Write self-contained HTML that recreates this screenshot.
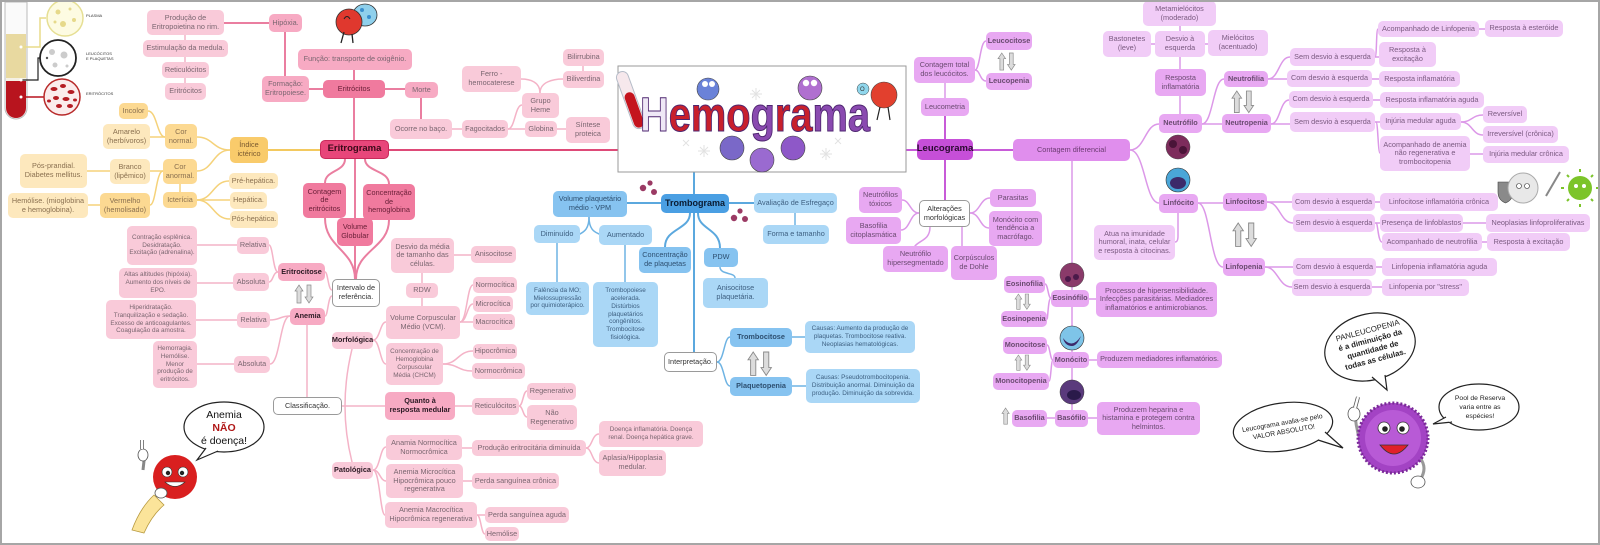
<!DOCTYPE html>
<html><head><meta charset="utf-8">
<style>
html,body{margin:0;padding:0;background:#fff}
#c{position:relative;width:1600px;height:545px;overflow:hidden;background:#fff;font-family:"Liberation Sans",sans-serif}
#frame{position:absolute;left:0;top:0;width:1600px;height:545px;box-sizing:border-box;border:2px solid #a6a6a6;pointer-events:none}
svg{position:absolute;left:0;top:0}
.n{position:absolute;display:flex;align-items:center;justify-content:center;text-align:center;border-radius:5px;font-size:7.3px;line-height:8.6px;color:#7a6670;white-space:nowrap;box-sizing:border-box}
.s{font-size:6.4px;line-height:7.8px}
.b{font-weight:bold;color:#2c1a24}
.pl{background:#f9cad9}
.pm{background:#f7aac3}
.pd{background:#f07a9e;color:#6a2038}
.pr{background:#e8467a;color:#3a0818;font-weight:bold;font-size:9.5px;border:1px solid #c82a5a}
.w{background:#fff;border:1px solid #9a9a9a;color:#333}
.yl{background:#fde8bd;color:#8a7050}
.ym{background:#fcd992;color:#8a7050}
.yd{background:#f9cb6b;color:#7a5a30}
.bl{background:#aad7f6;color:#3d5f80}
.bm{background:#86c3f0;color:#2d4f70}
.bd{background:#4a9fe3;color:#0a1a30;font-weight:bold;font-size:9px}
.ul{background:#f1ccf7;color:#7a5a80}
.um{background:#e8a8f2;color:#6a4a70}
.ud{background:#c64fd8;color:#2a0a30;font-weight:bold;font-size:9.5px}
.uc{background:#e08eed;color:#6a3a70}
.lbl{position:absolute;font-size:4px;color:#333;line-height:5px}
</style></head><body>
<div id="c">
<svg width="1600" height="545" viewBox="0 0 1600 545">
<defs>
<g id="ud">
<polygon points="4,0 8,6 6,6 6,18 2,18 2,6 0,6" fill="#dcdcdc" stroke="#8a8a8a" stroke-width="0.7"/>
<polygon points="12,0 16,0 16,12 18,12 14,18 10,12 12,12" fill="#dcdcdc" stroke="#8a8a8a" stroke-width="0.7"/>
</g>
</defs>
<g fill="none" stroke-linecap="round">
<!-- PINK main -->
<g stroke="#ea7ea0" stroke-width="2">
<path d="M354,98 V140"/><path d="M354,70 V80"/><path d="M309,89 H323"/><path d="M285,32 V76"/>
<path d="M224,23 H269"/><path d="M385,89 H405"/><path d="M421,98 V119"/>
<path d="M345,159 C345,172 325,170 325,183"/><path d="M365,159 C365,172 389,170 389,184"/><path d="M355,159 V218"/>
<path d="M325,218 C325,248 355,250 355,279"/><path d="M389,220 C389,248 356,250 356,279"/><path d="M355,246 V279"/>
</g>
<path d="M389,150 H618" stroke="#de4a78" stroke-width="2"/>
<path d="M268,150 H320" stroke="#f3c95f" stroke-width="2"/>
<g stroke="#f4b3c7" stroke-width="1.5">
<path d="M185,35 V83"/><path d="M452,129 H462"/>
<path d="M508,129 C515,129 515,105 522,105"/><path d="M508,129 H525"/>
<path d="M540,93 C540,82 530,79 521,79"/><path d="M540,93 C540,82 553,79 563,79"/>
<path d="M583,66 V71"/><path d="M557,129 H566"/>
<path d="M332,290 C328,290 328,272 325,272"/><path d="M332,296 C328,296 328,316 325,316"/>
<path d="M278,272 C273,272 273,245 269,245"/><path d="M278,272 C273,272 273,282 269,282"/>
<path d="M197,245 H237"/><path d="M197,283 H233"/>
<path d="M290,316 C280,316 280,320 270,320"/><path d="M290,316 C280,316 280,364 270,364"/>
<path d="M196,320 H237"/><path d="M197,364 H234"/>
<path d="M307,325 V397"/><path d="M342,406 H385"/>
<path d="M352,349 Q345,378 345,406 Q345,434 352,462"/>
<path d="M373,340 C380,340 380,322 386,322"/><path d="M373,340 C380,340 380,364 386,364"/>
<path d="M422,273 V306"/><path d="M454,255 H471"/>
<path d="M460,322 C467,322 467,285 473,285"/><path d="M460,322 C467,322 467,304 473,304"/><path d="M460,322 H473"/>
<path d="M443,364 C458,364 458,351 473,351"/><path d="M443,364 C458,364 458,371 472,371"/>
<path d="M455,406 H472"/>
<path d="M519,406 C523,406 523,391 527,391"/><path d="M519,406 C523,406 523,417 527,417"/>
<path d="M373,470 C380,470 380,447 386,447"/><path d="M373,470 C380,470 380,481 386,481"/><path d="M373,470 C380,470 380,515 385,515"/>
<path d="M462,448 H472"/>
<path d="M586,448 C592,448 592,434 599,434"/><path d="M586,448 C592,448 592,463 599,463"/>
<path d="M463,481 H472"/>
<path d="M477,515 H485"/><path d="M477,515 C481,515 481,534 485,534"/>
</g>
<!-- YELLOW -->
<g stroke="#f5d27a" stroke-width="1.5">
<path d="M230,150 C213,150 213,137 197,137"/><path d="M230,150 C213,150 213,171 197,171"/>
<path d="M165,137 C157,137 157,111 148,111"/><path d="M165,137 H150"/>
<path d="M163,171 H150"/><path d="M163,171 C156,171 156,205 150,205"/>
<path d="M87,171 H110"/><path d="M88,205 H100"/><path d="M180,184 V192"/>
<path d="M197,200 C213,200 213,181 229,181"/><path d="M197,200 H230"/><path d="M197,200 C213,200 213,219 230,219"/>
</g>
<!-- BLUE -->
<g stroke="#5ba8de" stroke-width="2">
<path d="M694,172 V194"/><path d="M627,203 H661"/><path d="M729,203 H754"/><path d="M694,213 V352"/>
<path d="M690,213 C690,230 665,228 665,247"/><path d="M698,213 C698,230 720,228 720,248"/>
</g>
<g stroke="#6eb3e3" stroke-width="1.5">
<path d="M795,213 V225"/>
<path d="M589,217 C589,230 583,232 580,234"/><path d="M589,217 C589,230 595,232 599,234"/>
<path d="M557,243 V282"/><path d="M625,245 V282"/>
<path d="M720,267 C720,275 735,272 735,278"/>
<path d="M717,362 C724,362 724,337 730,337"/><path d="M717,362 C724,362 724,386 730,386"/>
<path d="M792,337 H805"/><path d="M792,386 H806"/>
</g>
<!-- PURPLE -->
<g stroke="#c85bd8" stroke-width="2">
<path d="M906,150 H917"/><path d="M945,116 V139"/><path d="M945,160 V200"/><path d="M973,150 H1013"/>
</g>
<g stroke="#dc98e8" stroke-width="1.5">
<path d="M945,83 V98"/>
<path d="M975,70 C980,70 980,41 986,41"/><path d="M975,70 C980,70 980,81 986,81"/>
<path d="M919,213 C910,213 910,200 902,200"/><path d="M919,213 C910,213 910,230 901,230"/>
<path d="M930,227 C930,240 920,240 915,246"/><path d="M962,227 V246"/>
<path d="M970,213 C980,213 980,198 990,198"/><path d="M970,213 C980,213 980,228 989,228"/>
<path d="M1130,150 C1145,150 1145,124 1159,124"/><path d="M1130,150 C1145,150 1145,203 1159,203"/>
<path d="M1072,161 V410"/>
<path d="M1180,26 V114"/><path d="M1151,44 H1155"/><path d="M1205,44 H1208"/>
<path d="M1202,124 C1213,124 1213,79 1224,79"/><path d="M1202,124 H1222"/>
<path d="M1268,79 C1279,79 1279,57 1290,57"/><path d="M1268,79 H1287"/>
<path d="M1375,57 C1377,57 1376,29 1378,29"/><path d="M1375,57 H1379"/>
<path d="M1479,29 H1485"/><path d="M1372,79 H1379"/>
<path d="M1271,124 C1280,124 1280,100 1289,100"/><path d="M1271,124 H1290"/>
<path d="M1373,100 H1380"/>
<path d="M1375,122 H1380"/><path d="M1376,122 C1378,122 1378,153 1380,153"/>
<path d="M1461,122 C1472,122 1472,115 1483,115"/><path d="M1461,122 C1472,122 1472,135 1483,135"/>
<path d="M1470,154 H1483"/>
<path d="M1198,203 H1223"/><path d="M1198,203 C1210,203 1210,267 1223,267"/>
<path d="M1178,213 V236 C1178,242 1176,242 1175,242"/>
<path d="M1267,202 H1292"/><path d="M1267,202 C1280,202 1280,223 1293,223"/>
<path d="M1375,202 H1380"/>
<path d="M1375,223 H1380"/><path d="M1376,223 C1378,223 1378,242 1382,242"/>
<path d="M1463,223 H1486"/><path d="M1482,242 H1487"/>
<path d="M1265,267 H1293"/><path d="M1265,267 C1278,267 1278,287 1292,287"/>
<path d="M1376,267 H1382"/><path d="M1372,287 H1382"/>
<path d="M1051,298 C1048,298 1048,284 1045,284"/><path d="M1051,298 C1048,298 1048,319 1047,319"/>
<path d="M1089,299 H1096"/>
<path d="M1053,360 C1050,360 1050,345 1047,345"/><path d="M1053,360 C1051,360 1051,381 1049,381"/>
<path d="M1089,360 H1097"/><path d="M1047,418 H1055"/><path d="M1088,418 H1097"/>
</g>
</g>

<!-- arrows -->
<use href="#ud" transform="translate(295,285)"/>
<use href="#ud" transform="translate(748,352) scale(1.3)"/>
<use href="#ud" transform="translate(998,53) scale(0.95)"/>
<use href="#ud" transform="translate(1232,91) scale(1.2)"/>
<use href="#ud" transform="translate(1233,223) scale(1.3)"/>
<use href="#ud" transform="translate(1015,294) scale(0.85)"/>
<use href="#ud" transform="translate(1015,355) scale(0.85)"/>
<polygon transform="translate(1002,408) scale(0.9)" points="4,0 8,6 6,6 6,18 2,18 2,6 0,6" fill="#dcdcdc" stroke="#8a8a8a" stroke-width="0.7"/>

<!-- test tube -->
<path d="M5,2 H27 V108 A11,11 0 0 1 5,108 Z" fill="#fafafa" stroke="#bbb" stroke-width="1"/>
<rect x="6" y="34" width="20" height="46" fill="#e8d9a0"/>
<rect x="6" y="78" width="20" height="3" fill="#f4f0e4"/>
<path d="M6,81 H26 V108 A10,10 0 0 1 6,108 Z" fill="#b8141e"/>
<path d="M21,47 H40 V18 H46" stroke="#e8dc8a" stroke-width="1.5" fill="none"/>
<path d="M21,80 H38 V58 H40" stroke="#222" stroke-width="1.2" fill="none"/>
<path d="M21,97 H44" stroke="#b8141e" stroke-width="1.5" fill="none"/>
<circle cx="21" cy="47" r="1.5" fill="#fff"/><circle cx="21" cy="80" r="1.5" fill="#fff"/><circle cx="21" cy="97" r="1.5" fill="#fff"/>
<circle cx="65" cy="18" r="18" fill="#fdfbe2" stroke="#e6df94" stroke-width="1.5"/>
<g fill="#e6d98a"><circle cx="58" cy="12" r="2.5"/><circle cx="70" cy="9" r="1.5"/><circle cx="63" cy="24" r="3"/><circle cx="74" cy="20" r="2"/><circle cx="55" cy="22" r="1.5"/></g>
<circle cx="58" cy="58" r="18" fill="#fff" stroke="#222" stroke-width="1.8"/>
<g fill="#ccc"><circle cx="52" cy="52" r="3"/><circle cx="64" cy="55" r="3.5"/><circle cx="55" cy="65" r="2.5"/><circle cx="67" cy="66" r="1.5"/><circle cx="47" cy="58" r="1.2" fill="#555"/></g>
<circle cx="62" cy="97" r="18" fill="#fbecec" stroke="#b82a2a" stroke-width="1.5"/>
<g fill="#b51d24"><ellipse cx="54" cy="89" rx="3.5" ry="2"/><ellipse cx="63" cy="86" rx="3" ry="2"/><ellipse cx="71" cy="92" rx="3.5" ry="2"/><ellipse cx="56" cy="98" rx="3" ry="2"/><ellipse cx="66" cy="99" rx="3.5" ry="2"/><ellipse cx="59" cy="106" rx="3" ry="2"/><ellipse cx="70" cy="106" rx="3" ry="2"/><ellipse cx="49" cy="101" rx="2" ry="1.5"/><ellipse cx="75" cy="100" rx="2" ry="1.5"/></g>

<!-- top erythrocyte character -->
<ellipse cx="365" cy="15" rx="12" ry="11" fill="#8fd0ec" stroke="#333" stroke-width="0.8"/>
<g fill="#3a8fcf"><circle cx="362" cy="10" r="2"/><circle cx="369" cy="17" r="2"/><circle cx="360" cy="20" r="1.5"/></g>
<circle cx="349" cy="22" r="13" fill="#e0382e" stroke="#333" stroke-width="0.8"/>
<path d="M344,32 L341,43 M352,34 L353,43" stroke="#222" stroke-width="1.3"/>
<path d="M344,19 q3,-5 6,0" stroke="#222" stroke-width="1" fill="none"/>

<!-- Hemograma box -->
<rect x="618" y="66" width="288" height="106" fill="#fff" stroke="#9a9a9a" stroke-width="1"/>
<g transform="rotate(-20 631 101)">
<rect x="625" y="70" width="12" height="60" rx="6" fill="#f6e8ec" stroke="#b5bcc8" stroke-width="1"/>
<rect x="626" y="92" width="10" height="37" rx="5" fill="#c4141e"/>
</g>
<g opacity="0.55" stroke="#ccc" stroke-width="1">
<path d="M752,90 l8,8 m-8,0 l8,-8 m-4,-2 v12 m-6,-6 h12"/>
<path d="M700,147 l8,8 m-8,0 l8,-8 m-4,-2 v12 m-6,-6 h12"/>
<path d="M822,150 l8,8 m-8,0 l8,-8 m-4,-2 v12 m-6,-6 h12"/>
<path d="M683,140 l6,6 m-6,0 l6,-6"/><path d="M835,138 l6,6 m-6,0 l6,-6"/>
</g>
<circle cx="708" cy="89" r="11" fill="#6a82d8" stroke="#444" stroke-width="0.6"/>
<circle cx="705" cy="84" r="3" fill="#fff"/><circle cx="712" cy="84" r="3" fill="#fff"/>
<circle cx="810" cy="88" r="12" fill="#b070d0" stroke="#444" stroke-width="0.6"/>
<circle cx="806" cy="83" r="3.2" fill="#fff"/><circle cx="814" cy="83" r="3.2" fill="#fff"/>
<circle cx="732" cy="148" r="12" fill="#7a68c8" stroke="#444" stroke-width="0.6"/>
<circle cx="762" cy="160" r="12" fill="#9a6ad0" stroke="#444" stroke-width="0.6"/>
<circle cx="793" cy="148" r="12" fill="#8e58c8" stroke="#444" stroke-width="0.6"/>
<circle cx="863" cy="89" r="6" fill="#8fd6ec" stroke="#444" stroke-width="0.5"/>
<text x="860" y="91" font-size="6" fill="#333" font-family="Liberation Sans">O</text>
<circle cx="884" cy="95" r="13" fill="#e2402e" stroke="#444" stroke-width="0.6"/>
<path d="M880,107 l-3,13 M888,107 l2,13" stroke="#222" stroke-width="1.2"/>
<text x="640" y="131" font-size="48" font-weight="bold" font-family="Liberation Sans" textLength="230" lengthAdjust="spacingAndGlyphs" stroke="#4e2670" stroke-width="1"><tspan fill="#efe8f6">H</tspan><tspan fill="#c8202c">em</tspan><tspan fill="#c81e2e">o</tspan><tspan fill="#8a4ab0">g</tspan><tspan fill="#c8202c">ra</tspan><tspan fill="#8a4ab0">ma</tspan></text>

<!-- platelets -->
<g fill="#9b3a64">
<circle cx="643" cy="188" r="3.2"/><circle cx="650" cy="183" r="2.6"/><circle cx="654" cy="192" r="3"/>
<circle cx="734" cy="218" r="3.2"/><circle cx="740" cy="211" r="2.6"/><circle cx="745" cy="219" r="3"/>
</g>

<!-- leukocyte cell images -->
<circle cx="1178" cy="147" r="12" fill="#7d2c5c" stroke="#444" stroke-width="0.5"/>
<g fill="#4a1438"><circle cx="1173" cy="144" r="4"/><circle cx="1183" cy="150" r="4"/></g>
<circle cx="1178" cy="180" r="12" fill="#4aa6d8" stroke="#333" stroke-width="0.6"/>
<ellipse cx="1178" cy="183" rx="8" ry="6" fill="#3c2a6a"/>
<circle cx="1072" cy="275" r="12" fill="#8a3a6a" stroke="#444" stroke-width="0.5"/>
<g fill="#4a1a4a"><circle cx="1068" cy="279" r="3"/><circle cx="1076" cy="277" r="3"/></g>
<circle cx="1072" cy="338" r="12" fill="#7ec4e8" stroke="#333" stroke-width="0.6"/>
<path d="M1063,338 q9,12 18,-2 q-4,10 -9,10 q-7,0 -9,-8z" fill="#3c2a6a"/>
<circle cx="1072" cy="392" r="12" fill="#5a3a7c" stroke="#333" stroke-width="0.5"/>
<ellipse cx="1074" cy="395" rx="7" ry="5" fill="#2a1a4a"/>

<!-- top right shield/cell/virus -->
<path d="M1498,182 h15 v10 q0,8 -7.5,11 q-7.5,-3 -7.5,-11z" fill="#8a8a8a" stroke="#444" stroke-width="0.6"/>
<circle cx="1523" cy="188" r="15" fill="#e8e8e8" stroke="#aaa" stroke-width="1"/>
<circle cx="1519" cy="186" r="2.5" fill="#fff" stroke="#333" stroke-width="0.6"/><circle cx="1527" cy="186" r="2.5" fill="#fff" stroke="#333" stroke-width="0.6"/>
<path d="M1546,196 L1560,172" stroke="#888" stroke-width="2"/>
<circle cx="1580" cy="188" r="12" fill="#7cc42a"/>
<g stroke="#7cc42a" stroke-width="2"><path d="M1580,172 v-3 M1580,204 v3 M1564,188 h-3 M1596,188 h2 M1569,177 l-2,-2 M1591,177 l2,-2 M1569,199 l-2,2 M1591,199 l2,2"/></g>
<circle cx="1576" cy="186" r="2" fill="#fff"/><circle cx="1584" cy="186" r="2" fill="#fff"/>

<!-- anemia bubble and character -->
<ellipse cx="224" cy="427" rx="40" ry="25" fill="#fff" stroke="#222" stroke-width="1.2"/>
<path d="M206,448 L197,460 L218,451" fill="#fff" stroke="#222" stroke-width="1.2"/>
<path d="M207,446 L217,450" stroke="#fff" stroke-width="2"/>
<text x="224" y="418" font-size="10.5" text-anchor="middle" fill="#111" font-family="Liberation Sans">Anemia</text>
<text x="224" y="431" font-size="10.5" font-weight="bold" text-anchor="middle" fill="#b01818" font-family="Liberation Sans">NÃO</text>
<text x="224" y="444" font-size="10.5" text-anchor="middle" fill="#111" font-family="Liberation Sans">é doença!</text>
<path d="M132,530 q8,-22 22,-35 l10,10 q-12,10 -20,28 z" fill="#fbe49a" stroke="#b89a40" stroke-width="0.8"/>
<path d="M143,470 L145,452" stroke="#888" stroke-width="3"/>
<ellipse cx="143" cy="455" rx="5" ry="6" fill="#fff" stroke="#555" stroke-width="0.8"/>
<path d="M142,449 v-9" stroke="#555" stroke-width="3.5"/><path d="M142,449 v-9" stroke="#fff" stroke-width="2"/>
<circle cx="175" cy="477" r="22" fill="#d91f1f"/>
<circle cx="167" cy="472" r="5" fill="#fff" stroke="#333" stroke-width="0.6"/><circle cx="183" cy="472" r="5" fill="#fff" stroke="#333" stroke-width="0.6"/>
<circle cx="168" cy="473" r="2.2" fill="#222"/><circle cx="182" cy="473" r="2.2" fill="#222"/>
<path d="M165,482 q10,9 20,0 z" fill="#fff" stroke="#333" stroke-width="0.6"/>
<ellipse cx="161" cy="493" rx="6" ry="5" fill="#fff" stroke="#555" stroke-width="0.8"/>

<!-- leukocyte character -->
<ellipse cx="1370" cy="347" rx="46" ry="33" transform="rotate(-15 1370 347)" fill="#fff" stroke="#222" stroke-width="1.2"/>
<path d="M1372,377 L1387,390 L1385,375" fill="#fff" stroke="#222" stroke-width="1.2"/>
<path d="M1373,376 L1384,375" stroke="#fff" stroke-width="2.5"/>
<g font-family="Liberation Sans" font-size="7.8" fill="#222" text-anchor="middle" transform="rotate(-15 1370 347)">
<text x="1372" y="333">PANLEUCOPENIA</text>
<text x="1372" y="343" font-weight="bold">é a diminuição da</text>
<text x="1372" y="353" font-weight="bold">quantidade de</text>
<text x="1372" y="363" font-weight="bold">todas as células.</text>
</g>
<ellipse cx="1283" cy="427" rx="50" ry="24" transform="rotate(-8 1283 427)" fill="#fff" stroke="#222" stroke-width="1.2"/>
<path d="M1318,440 L1343,448 L1325,432" fill="#fff" stroke="#222" stroke-width="1.2"/>
<path d="M1320,438 L1325,434" stroke="#fff" stroke-width="3"/>
<g font-family="Liberation Sans" font-size="6.8" fill="#222" text-anchor="middle" transform="rotate(-10 1283 427)">
<text x="1283" y="425">Leucograma avalia-se pelo</text>
<text x="1283" y="434">VALOR ABSOLUTO!</text>
</g>
<ellipse cx="1479" cy="407" rx="40" ry="23" fill="#fff" stroke="#222" stroke-width="1.2"/>
<path d="M1446,417 L1433,424 L1452,422" fill="#fff" stroke="#222" stroke-width="1.2"/>
<path d="M1447,418 L1451,421" stroke="#fff" stroke-width="3"/>
<g font-family="Liberation Sans" font-size="6.8" fill="#222" text-anchor="middle">
<text x="1480" y="400">Pool de Reserva</text>
<text x="1480" y="409">varia entre as</text>
<text x="1480" y="418">espécies!</text>
</g>
<path d="M1360,440 q-5,-15 -5,-30" stroke="#999" stroke-width="3" fill="none"/>
<ellipse cx="1354" cy="414" rx="6" ry="7" fill="#fff" stroke="#555" stroke-width="0.8"/>
<path d="M1355,408 l3,-11" stroke="#555" stroke-width="4"/><path d="M1355,408 l3,-11" stroke="#fff" stroke-width="2.4"/>
<path d="M1420,458 q8,10 0,22" stroke="#999" stroke-width="3" fill="none"/>
<circle cx="1393" cy="438" r="35" fill="#a343c4" stroke="#7a2a98" stroke-width="3" stroke-dasharray="2 2"/>
<circle cx="1393" cy="438" r="28" fill="#b85ad6"/>
<circle cx="1384" cy="428" r="6" fill="#fff" stroke="#333" stroke-width="0.8"/><circle cx="1403" cy="428" r="6" fill="#fff" stroke="#333" stroke-width="0.8"/>
<circle cx="1385" cy="429" r="2.8" fill="#222"/><circle cx="1402" cy="429" r="2.8" fill="#222"/>
<path d="M1380,445 q14,18 28,0 z" fill="#e0202a" stroke="#333" stroke-width="0.8"/>
<ellipse cx="1418" cy="482" rx="7" ry="6" fill="#fff" stroke="#555" stroke-width="0.8"/>
</svg>

<div class="lbl" style="left:86px;top:13px">PLASMA</div>
<div class="lbl" style="left:86px;top:51px">LEUCÓCITOS<br>E PLAQUETAS</div>
<div class="lbl" style="left:86px;top:91px">ERITRÓCITOS</div>

<!-- PINK -->
<div class="n pl" style="left:147px;top:10px;width:77px;height:25px">Produção de<br>Eritropoietina no rim.</div>
<div class="n pm" style="left:269px;top:14px;width:33px;height:18px">Hipóxia.</div>
<div class="n pl" style="left:143px;top:40px;width:85px;height:17px">Estimulação da medula.</div>
<div class="n pl" style="left:162px;top:62px;width:47px;height:16px">Reticulócitos</div>
<div class="n pl" style="left:165px;top:83px;width:41px;height:17px">Eritrócitos</div>
<div class="n pm" style="left:262px;top:76px;width:47px;height:26px">Formação:<br>Eritropoiese.</div>
<div class="n pm" style="left:298px;top:49px;width:114px;height:21px">Função: transporte de oxigênio.</div>
<div class="n pd" style="left:323px;top:80px;width:62px;height:18px">Eritrócitos</div>
<div class="n pm" style="left:405px;top:82px;width:33px;height:16px">Morte</div>
<div class="n pl" style="left:390px;top:119px;width:62px;height:20px">Ocorre no baço.</div>
<div class="n pl" style="left:462px;top:120px;width:46px;height:18px">Fagocitados</div>
<div class="n pl" style="left:462px;top:66px;width:59px;height:26px">Ferro -<br>hemocaterese</div>
<div class="n pl" style="left:522px;top:93px;width:37px;height:25px">Grupo<br>Heme</div>
<div class="n pl" style="left:525px;top:121px;width:32px;height:16px">Globina</div>
<div class="n pl" style="left:563px;top:49px;width:41px;height:17px">Bilirrubina</div>
<div class="n pl" style="left:563px;top:71px;width:41px;height:17px">Biliverdina</div>
<div class="n pl" style="left:566px;top:117px;width:44px;height:26px">Síntese<br>proteica</div>
<div class="n pr" style="left:320px;top:140px;width:69px;height:19px">Eritrograma</div>
<div class="n pd" style="left:303px;top:183px;width:43px;height:35px">Contagem<br>de<br>eritrócitos</div>
<div class="n pd" style="left:363px;top:184px;width:52px;height:36px">Concentração<br>de<br>hemoglobina</div>
<div class="n pd" style="left:337px;top:218px;width:36px;height:28px">Volume<br>Globular</div>
<div class="n w" style="left:332px;top:279px;width:48px;height:28px">Intervalo de<br>referência.</div>
<div class="n pl s" style="left:127px;top:226px;width:70px;height:39px">Contração esplênica.<br>Desidratação.<br>Excitação (adrenalina).</div>
<div class="n pl" style="left:237px;top:237px;width:32px;height:17px">Relativa</div>
<div class="n pl s" style="left:119px;top:268px;width:78px;height:30px">Altas altitudes (hipóxia).<br>Aumento dos níveis de<br>EPO.</div>
<div class="n pl" style="left:233px;top:273px;width:36px;height:18px">Absoluta</div>
<div class="n pm b" style="left:278px;top:263px;width:47px;height:18px">Eritrocitose</div>
<div class="n pm b" style="left:290px;top:308px;width:35px;height:17px">Anemia</div>
<div class="n pl s" style="left:106px;top:300px;width:90px;height:39px">Hiperidratação.<br>Tranquilização e sedação.<br>Excesso de anticoagulantes.<br>Coagulação da amostra.</div>
<div class="n pl" style="left:237px;top:312px;width:33px;height:16px">Relativa</div>
<div class="n pl s" style="left:153px;top:341px;width:44px;height:47px">Hemorragia.<br>Hemólise.<br>Menor<br>produção de<br>eritrócitos.</div>
<div class="n pl" style="left:234px;top:356px;width:36px;height:17px">Absoluta</div>
<div class="n w" style="left:273px;top:397px;width:69px;height:18px">Classificação.</div>
<div class="n pl b" style="left:332px;top:332px;width:41px;height:17px">Morfológica</div>
<div class="n pl b" style="left:332px;top:462px;width:41px;height:17px">Patológica</div>
<div class="n pl" style="left:391px;top:238px;width:63px;height:35px">Desvio da média<br>de tamanho das<br>células.</div>
<div class="n pl" style="left:471px;top:246px;width:45px;height:17px">Anisocitose</div>
<div class="n pl" style="left:406px;top:283px;width:32px;height:15px">RDW</div>
<div class="n pl" style="left:386px;top:306px;width:74px;height:33px">Volume Corpuscular<br>Médio (VCM).</div>
<div class="n pl" style="left:473px;top:277px;width:44px;height:16px">Normocítica</div>
<div class="n pl" style="left:473px;top:296px;width:40px;height:16px">Microcítica</div>
<div class="n pl" style="left:473px;top:314px;width:42px;height:16px">Macrocítica</div>
<div class="n pl s" style="left:386px;top:343px;width:57px;height:42px">Concentração de<br>Hemoglobina<br>Corpuscular<br>Média (CHCM)</div>
<div class="n pl" style="left:473px;top:344px;width:44px;height:15px">Hipocrômica</div>
<div class="n pl" style="left:472px;top:363px;width:53px;height:16px">Normocrômica</div>
<div class="n pm b" style="left:385px;top:392px;width:70px;height:28px">Quanto à<br>resposta medular</div>
<div class="n pl" style="left:472px;top:398px;width:47px;height:17px">Reticulócitos</div>
<div class="n pl" style="left:527px;top:383px;width:49px;height:17px">Regenerativo</div>
<div class="n pl" style="left:527px;top:405px;width:50px;height:25px">Não<br>Regenerativo</div>
<div class="n pl" style="left:386px;top:435px;width:76px;height:25px">Anamia Normocítica<br>Normocrômica</div>
<div class="n pl" style="left:472px;top:440px;width:114px;height:16px">Produção eritrocitária diminuída</div>
<div class="n pl s" style="left:599px;top:421px;width:104px;height:26px">Doença inflamatória. Doença<br>renal. Doença hepática grave.</div>
<div class="n pl" style="left:599px;top:450px;width:67px;height:26px">Aplasia/Hipoplasia<br>medular.</div>
<div class="n pl" style="left:386px;top:464px;width:77px;height:34px">Anemia Microcítica<br>Hipocrômica pouco<br>regenerativa</div>
<div class="n pl" style="left:472px;top:473px;width:87px;height:16px">Perda sanguínea crônica</div>
<div class="n pl" style="left:385px;top:502px;width:92px;height:26px">Anemia Macrocítica<br>Hipocrômica regenerativa</div>
<div class="n pl" style="left:485px;top:507px;width:84px;height:16px">Perda sanguínea aguda</div>
<div class="n pl" style="left:485px;top:527px;width:34px;height:14px">Hemólise</div>

<!-- YELLOW -->
<div class="n yd" style="left:230px;top:137px;width:38px;height:26px">Índice<br>ictérico</div>
<div class="n ym" style="left:165px;top:124px;width:32px;height:25px">Cor<br>normal.</div>
<div class="n ym" style="left:163px;top:159px;width:34px;height:25px">Cor<br>anormal.</div>
<div class="n ym" style="left:119px;top:103px;width:29px;height:16px">Incolor</div>
<div class="n yl" style="left:103px;top:124px;width:47px;height:25px">Amarelo<br>(herbívoros)</div>
<div class="n yl" style="left:110px;top:159px;width:40px;height:25px">Branco<br>(lipêmico)</div>
<div class="n yl" style="left:20px;top:154px;width:67px;height:34px">Pós-prandial.<br>Diabetes mellitus.</div>
<div class="n ym" style="left:100px;top:193px;width:50px;height:25px">Vermelho<br>(hemolisado)</div>
<div class="n yl" style="left:8px;top:193px;width:80px;height:25px">Hemólise. (mioglobina<br>e hemoglobina).</div>
<div class="n ym" style="left:163px;top:192px;width:34px;height:16px">Icterícia</div>
<div class="n yl" style="left:229px;top:173px;width:49px;height:16px">Pré-hepática.</div>
<div class="n yl" style="left:230px;top:192px;width:37px;height:17px">Hepática.</div>
<div class="n yl" style="left:230px;top:211px;width:48px;height:17px">Pós-hepática.</div>

<!-- BLUE -->
<div class="n bm" style="left:553px;top:191px;width:74px;height:26px">Volume plaquetário<br>médio - VPM</div>
<div class="n bd" style="left:661px;top:194px;width:68px;height:19px">Trombograma</div>
<div class="n bl" style="left:754px;top:193px;width:83px;height:20px">Avaliação de Esfregaço</div>
<div class="n bl" style="left:763px;top:225px;width:66px;height:19px">Forma e tamanho</div>
<div class="n bl" style="left:534px;top:225px;width:46px;height:18px">Diminuído</div>
<div class="n bl" style="left:599px;top:225px;width:53px;height:20px">Aumentado</div>
<div class="n bm" style="left:639px;top:247px;width:52px;height:26px">Concentração<br>de plaquetas</div>
<div class="n bm" style="left:704px;top:248px;width:34px;height:19px">PDW</div>
<div class="n bl" style="left:703px;top:278px;width:65px;height:30px">Anisocitose<br>plaquetária.</div>
<div class="n bl s" style="left:526px;top:282px;width:63px;height:33px">Falência da MO;<br>Mielossupressão<br>por quimioterápico.</div>
<div class="n bl s" style="left:593px;top:282px;width:65px;height:65px">Trombopoiese<br>acelerada.<br>Distúrbios<br>plaquetários<br>congênitos.<br>Trombocitose<br>fisiológica.</div>
<div class="n w" style="left:664px;top:352px;width:53px;height:20px">Interpretação.</div>
<div class="n bm b" style="left:730px;top:328px;width:62px;height:19px">Trombocitose</div>
<div class="n bm b" style="left:730px;top:377px;width:62px;height:19px">Plaquetopenia</div>
<div class="n bl s" style="left:805px;top:321px;width:110px;height:32px">Causas: Aumento da produção de<br>plaquetas. Trombocitose reativa.<br>Neoplasias hematológicas.</div>
<div class="n bl s" style="left:806px;top:369px;width:114px;height:34px">Causas: Pseudotrombocitopenia.<br>Distribuição anormal. Diminuição da<br>produção. Diminuição da sobrevida.</div>

<!-- PURPLE -->
<div class="n ud" style="left:917px;top:139px;width:56px;height:21px">Leucograma</div>
<div class="n um" style="left:921px;top:98px;width:48px;height:18px">Leucometria</div>
<div class="n um" style="left:914px;top:57px;width:61px;height:26px">Contagem total<br>dos leucócitos.</div>
<div class="n um b" style="left:986px;top:32px;width:46px;height:18px">Leucocitose</div>
<div class="n um b" style="left:986px;top:73px;width:46px;height:17px">Leucopenia</div>
<div class="n uc" style="left:1013px;top:139px;width:117px;height:22px">Contagem diferencial</div>
<div class="n w" style="left:919px;top:200px;width:51px;height:27px">Alterações<br>morfológicas</div>
<div class="n um" style="left:859px;top:187px;width:43px;height:26px">Neutrófilos<br>tóxicos</div>
<div class="n um" style="left:846px;top:217px;width:55px;height:27px">Basofilia<br>citoplasmática</div>
<div class="n um" style="left:883px;top:246px;width:65px;height:26px">Neutrófilo<br>hipersegmentado</div>
<div class="n um" style="left:951px;top:246px;width:46px;height:34px">Corpúsculos<br>de Dohle</div>
<div class="n um" style="left:990px;top:189px;width:46px;height:18px">Parasitas</div>
<div class="n um" style="left:989px;top:211px;width:53px;height:35px">Monócito com<br>tendência a<br>macrófago.</div>
<div class="n ul" style="left:1143px;top:1px;width:73px;height:25px">Metamielócitos<br>(moderado)</div>
<div class="n ul" style="left:1103px;top:31px;width:48px;height:26px">Bastonetes<br>(leve)</div>
<div class="n ul" style="left:1155px;top:31px;width:50px;height:26px">Desvio à<br>esquerda</div>
<div class="n ul" style="left:1208px;top:30px;width:60px;height:26px">Mielócitos<br>(acentuado)</div>
<div class="n um" style="left:1155px;top:69px;width:51px;height:27px">Resposta<br>inflamatória</div>
<div class="n um b" style="left:1159px;top:114px;width:43px;height:19px">Neutrófilo</div>
<div class="n um b" style="left:1159px;top:194px;width:39px;height:19px">Linfócito</div>
<div class="n ul" style="left:1094px;top:225px;width:81px;height:35px">Atua na imunidade<br>humoral, inata, celular<br>e resposta à citocinas.</div>
<div class="n um b" style="left:1224px;top:71px;width:44px;height:16px">Neutrofilia</div>
<div class="n um b" style="left:1222px;top:114px;width:49px;height:19px">Neutropenia</div>
<div class="n ul" style="left:1290px;top:48px;width:85px;height:18px">Sem desvio à esquerda</div>
<div class="n ul" style="left:1287px;top:70px;width:85px;height:17px">Com desvio à esquerda</div>
<div class="n ul" style="left:1289px;top:91px;width:84px;height:17px">Com desvio à esquerda</div>
<div class="n ul" style="left:1290px;top:112px;width:85px;height:20px">Sem desvio à esquerda</div>
<div class="n ul" style="left:1378px;top:21px;width:101px;height:16px">Acompanhado de Linfopenia</div>
<div class="n ul" style="left:1485px;top:20px;width:78px;height:17px">Resposta à esteróide</div>
<div class="n ul" style="left:1379px;top:42px;width:57px;height:25px">Resposta à<br>excitação</div>
<div class="n ul" style="left:1379px;top:71px;width:81px;height:16px">Resposta inflamatória</div>
<div class="n ul" style="left:1380px;top:92px;width:104px;height:16px">Resposta inflamatória aguda</div>
<div class="n ul" style="left:1380px;top:113px;width:81px;height:17px">Injúria medular aguda</div>
<div class="n ul" style="left:1483px;top:106px;width:44px;height:17px">Reversível</div>
<div class="n ul" style="left:1483px;top:126px;width:75px;height:17px">Irreversível (crônica)</div>
<div class="n ul" style="left:1380px;top:136px;width:90px;height:35px">Acompanhado de anemia<br>não regenerativa e<br>trombocitopenia</div>
<div class="n ul" style="left:1483px;top:146px;width:86px;height:17px">Injúria medular crônica</div>
<div class="n um b" style="left:1223px;top:193px;width:44px;height:18px">Linfocitose</div>
<div class="n um b" style="left:1223px;top:258px;width:42px;height:18px">Linfopenia</div>
<div class="n ul" style="left:1292px;top:193px;width:83px;height:18px">Com desvio à esquerda</div>
<div class="n ul" style="left:1293px;top:214px;width:82px;height:18px">Sem desvio à esquerda</div>
<div class="n ul" style="left:1380px;top:193px;width:118px;height:18px">Linfocitose inflamatória crônica</div>
<div class="n ul" style="left:1380px;top:214px;width:83px;height:18px">Presença de linfoblastos</div>
<div class="n ul" style="left:1486px;top:214px;width:104px;height:18px">Neoplasias linfoproliferativas</div>
<div class="n ul" style="left:1382px;top:233px;width:100px;height:18px">Acompanhado de neutrofilia</div>
<div class="n ul" style="left:1487px;top:233px;width:83px;height:18px">Resposta à excitação</div>
<div class="n ul" style="left:1293px;top:258px;width:83px;height:18px">Com desvio à esquerda</div>
<div class="n ul" style="left:1382px;top:258px;width:115px;height:18px">Linfopenia inflamatória aguda</div>
<div class="n ul" style="left:1292px;top:279px;width:80px;height:17px">Sem desvio à esquerda</div>
<div class="n ul" style="left:1382px;top:279px;width:87px;height:17px">Linfopenia por "stress"</div>
<div class="n um b" style="left:1051px;top:290px;width:38px;height:17px">Eosinófilo</div>
<div class="n um b" style="left:1004px;top:276px;width:41px;height:17px">Eosinofilia</div>
<div class="n um b" style="left:1001px;top:311px;width:46px;height:16px">Eosinopenia</div>
<div class="n um" style="left:1096px;top:282px;width:121px;height:35px">Processo de hipersensibilidade.<br>Infecções parasitárias. Mediadores<br>inflamatórios e antimicrobianos.</div>
<div class="n um b" style="left:1053px;top:352px;width:36px;height:16px">Monócito</div>
<div class="n um b" style="left:1003px;top:337px;width:44px;height:17px">Monocitose</div>
<div class="n um b" style="left:993px;top:373px;width:56px;height:17px">Monocitopenia</div>
<div class="n um" style="left:1097px;top:351px;width:125px;height:17px">Produzem mediadores inflamatórios.</div>
<div class="n um b" style="left:1055px;top:410px;width:33px;height:17px">Basófilo</div>
<div class="n um b" style="left:1012px;top:410px;width:35px;height:17px">Basofilia</div>
<div class="n um" style="left:1097px;top:402px;width:103px;height:33px">Produzem heparina e<br>histamina e protegem contra<br>helmintos.</div>

<div id="frame"></div>
</div>
</body></html>
